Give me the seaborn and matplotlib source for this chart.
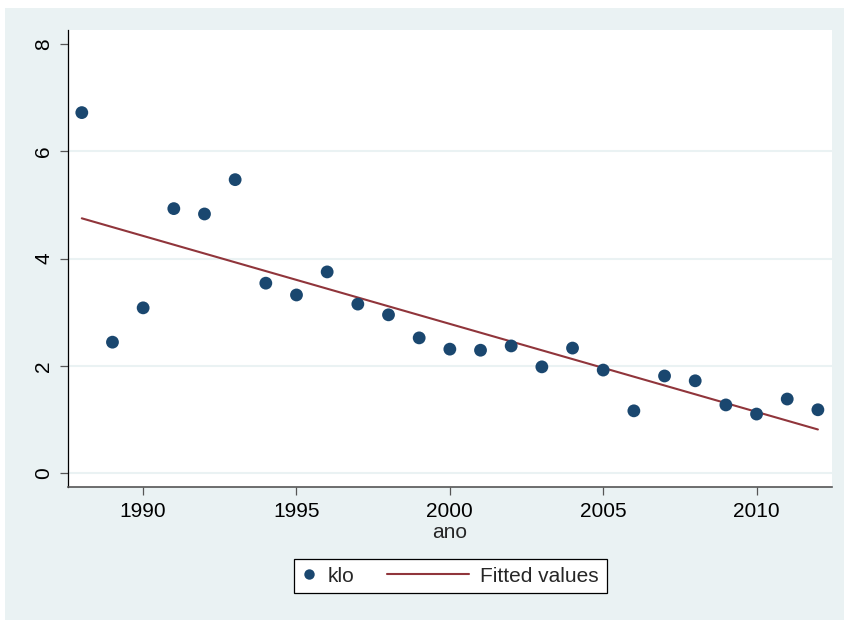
import matplotlib
matplotlib.use('Agg')
import matplotlib.pyplot as plt
import seaborn as sns
import pandas as pd
from matplotlib.lines import Line2D
from matplotlib.legend_handler import HandlerLine2D
from matplotlib.patches import Rectangle

# ---- data ----
years = list(range(1988, 2013))
klo = [6.72, 2.44, 3.08, 4.93, 4.83, 5.47, 3.54, 3.32, 3.75, 3.15,
       2.95, 2.52, 2.31, 2.29, 2.37, 1.98, 2.33, 1.92, 1.16, 1.81,
       1.72, 1.27, 1.10, 1.38, 1.18]
xticks = [1990, 1995, 2000, 2005, 2010]
yticks = [0, 2, 4, 6, 8]
x_label = "ano"
legend_labels = ["klo", "Fitted values"]

BG = "#eaf2f3"
NAVY = "#1a476f"
MAROON = "#90353b"

sns.set_style("white")
plt.rcParams['font.family'] = ['Liberation Sans', 'DejaVu Sans']

fig = plt.figure(figsize=(8.44, 6.2), dpi=100)
fig.patch.set_facecolor("white")
fig.add_artist(Rectangle((5 / 844, 0), 1, 612 / 620, transform=fig.transFigure,
                         facecolor=BG, edgecolor="none", zorder=-10))
ax = fig.add_axes([68 / 844, 133 / 620, 764 / 844, 457 / 620])
ax.set_facecolor("white")

df = pd.DataFrame({"ano": years, "klo": klo})
sns.regplot(data=df, x="ano", y="klo", scatter=False, ci=None, color=MAROON,
            line_kws={"lw": 1.5, "zorder": 2}, ax=ax)
sns.scatterplot(data=df, x="ano", y="klo", s=85, color=NAVY, edgecolor="none",
                ax=ax, zorder=3, legend=False)

ax.set_xlim(1987.55, 2012.46)
ax.set_ylim(-0.26, 8.26)
ax.set_xticks(xticks)
ax.set_yticks(yticks)
ax.set_xticklabels([str(t) for t in xticks])
ax.set_yticklabels([str(t) for t in yticks], rotation=90, va="center")

ax.yaxis.grid(True, color=BG, lw=1.5)
ax.xaxis.grid(False)
ax.set_axisbelow(True)
for gl, t in zip(ax.get_ygridlines(), yticks):
    if t == 8:
        gl.set_visible(False)

for s in ["top", "right"]:
    ax.spines[s].set_visible(False)
ax.spines["left"].set_color("black")
ax.spines["left"].set_linewidth(0.9)
ax.spines["bottom"].set_color("#555555")
ax.spines["bottom"].set_linewidth(1.2)

ax.tick_params(axis="both", which="major", length=5.5, width=0.9, color="#555555",
               labelsize=15, labelcolor="black", direction="out",
               bottom=True, left=True, top=False, right=False)
ax.tick_params(axis="x", pad=5)
ax.tick_params(axis="y", pad=5)
ax.set_xlabel(x_label, fontsize=15, labelpad=2)
ax.set_ylabel("")


class ExtLine(HandlerLine2D):
    def __init__(self, ext, **kw):
        super().__init__(**kw)
        self.ext = ext

    def create_artists(self, legend, orig_handle, xdescent, ydescent,
                       width, height, fontsize, trans):
        y = height / 2 - ydescent
        line = Line2D([-xdescent - self.ext, -xdescent + width], [y, y])
        self.update_prop(line, orig_handle, legend)
        line.set_transform(trans)
        return [line]


h_pt = Line2D([], [], ls="none", marker="o", markersize=7.5, color=NAVY,
              markeredgecolor="none")
h_ln = Line2D([], [], color=MAROON, lw=1.5)
leg = fig.legend([h_pt, h_ln], legend_labels, ncol=2,
                 loc="center", bbox_to_anchor=(450.5 / 844, (620 - 576) / 620),
                 fontsize=15, frameon=True, fancybox=False, framealpha=1,
                 edgecolor="black", facecolor="white",
                 handlelength=0.67, handletextpad=0.55, borderpad=0.38,
                 columnspacing=4.8,
                 handler_map={h_ln: ExtLine(49)})
leg.get_frame().set_linewidth(0.9)

fig.savefig("out.png", dpi=100, facecolor=fig.get_facecolor())
